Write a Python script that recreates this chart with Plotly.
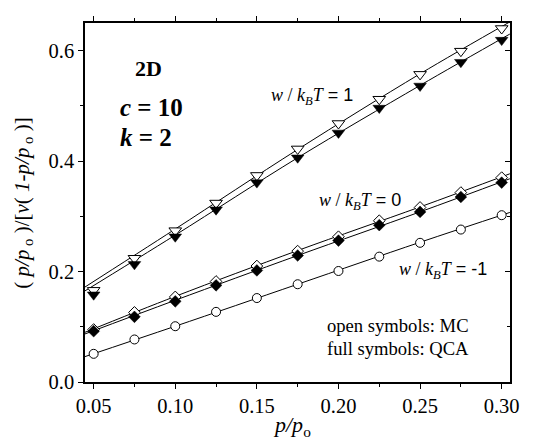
import plotly.graph_objects as go

# ---- data ----
x_pts = [0.05, 0.075, 0.10, 0.125, 0.15, 0.175, 0.20, 0.225, 0.25, 0.275, 0.30]

# w/kBT = 1
mc_w1 = [0.166, 0.224, 0.274, 0.324, 0.374, 0.422, 0.468, 0.512, 0.557, 0.599, 0.640]
qca_w1 = [0.158, 0.213, 0.263, 0.312, 0.361, 0.406, 0.451, 0.496, 0.536, 0.579, 0.619]
# w/kBT = 0
mc_w0 = [0.095, 0.126, 0.154, 0.182, 0.210, 0.237, 0.263, 0.292, 0.316, 0.343, 0.370]
qca_w0 = [0.092, 0.118, 0.146, 0.175, 0.202, 0.229, 0.256, 0.284, 0.308, 0.335, 0.361]
# w/kBT = -1
mc_wm1 = [0.051, 0.077, 0.101, 0.127, 0.152, 0.177, 0.201, 0.227, 0.252, 0.276, 0.302]

# theory curves (sampled)
line_x = [0.0447, 0.10, 0.175, 0.25, 0.305]
line_mc_w1 = [0.172, 0.277, 0.421, 0.558, 0.652]
line_qca_w1 = [0.165, 0.266, 0.406, 0.537, 0.630]
line_mc_w0 = [0.090, 0.155, 0.238, 0.317, 0.377]
line_qca_w0 = [0.087, 0.148, 0.229, 0.308, 0.368]
line_wm1 = [0.046, 0.101, 0.177, 0.253, 0.307]

x_ticks = [0.05, 0.10, 0.15, 0.20, 0.25, 0.30]
x_tick_labels = ["0.05", "0.10", "0.15", "0.20", "0.25", "0.30"]
y_ticks = [0.0, 0.2, 0.4, 0.6]
y_tick_labels = ["0.0", "0.2", "0.4", "0.6"]

SERIF = "Liberation Serif"
SANS = "Liberation Sans"

fig = go.Figure()

for ly in [line_mc_w1, line_qca_w1, line_mc_w0, line_qca_w0, line_wm1]:
    fig.add_trace(go.Scatter(x=line_x, y=ly, mode="lines",
                             line=dict(color="black", width=1, shape="spline"),
                             showlegend=False, hoverinfo="skip"))

def open_m(y, sym, size):
    return go.Scatter(x=x_pts, y=y, mode="markers", showlegend=False,
                      marker=dict(symbol=sym, size=size, color="white",
                                  line=dict(color="black", width=1)))

def full_m(y, sym, size):
    return go.Scatter(x=x_pts, y=y, mode="markers", showlegend=False,
                      marker=dict(symbol=sym, size=size, color="black",
                                  line=dict(color="black", width=0.5)))

fig.add_trace(open_m(mc_w1, "triangle-down", 11))
fig.add_trace(full_m(qca_w1, "triangle-down", 11))
fig.add_trace(open_m(mc_w0, "diamond", 9))
fig.add_trace(full_m(qca_w0, "diamond", 9))
fig.add_trace(open_m(mc_wm1, "circle", 9))

# invisible trace to carry the right-hand axis (inward ticks)
fig.add_trace(go.Scatter(x=x_pts, y=mc_wm1, mode="markers", yaxis="y2",
                         marker=dict(opacity=0), showlegend=False, hoverinfo="skip"))

tickfont = dict(family=SERIF, size=20.5, color="black")

fig.update_xaxes(range=[0.0447, 0.3051], tickvals=x_ticks, ticktext=x_tick_labels,
                 showline=True, linecolor="black", linewidth=1.5, mirror="ticks",
                 ticks="outside", ticklen=5, tickwidth=1.2, tickcolor="black",
                 showgrid=False, zeroline=False, tickfont=tickfont,
                 minor=dict(dtick=0.025, tick0=0.025, ticks="outside", ticklen=3,
                            tickcolor="black", tickwidth=1))
fig.update_layout(
    yaxis=dict(range=[0, 0.65], tickvals=y_ticks, ticktext=y_tick_labels,
               showline=True, linecolor="black", linewidth=1.5, mirror=True,
               ticks="outside", ticklen=5, tickwidth=1.2, tickcolor="black",
               showgrid=False, zeroline=False, tickfont=tickfont,
               minor=dict(dtick=0.1, tick0=0.1, ticks="outside", ticklen=3,
                          tickcolor="black", tickwidth=1)),
    yaxis2=dict(range=[0, 0.65], overlaying="y", side="right", tickvals=y_ticks,
                showticklabels=False, showline=False, showgrid=False, zeroline=False,
                ticks="inside", ticklen=5, tickwidth=1.2, tickcolor="black",
                minor=dict(dtick=0.1, tick0=0.1, ticks="inside", ticklen=3,
                           tickcolor="black", tickwidth=1)),
)

def wlabel(val):
    return ("<i>w</i> / <i>k</i><sub><i>B</i></sub><i>T</i>"
            f"<span style='font-family:{SANS}'> = {val}</span>")

ann = [
    dict(x=0.0833, y=0.568, text="<b>2D</b>", size=22),
    dict(x=0.0857, y=0.497, text="<b><i>c</i> = 10</b>", size=25),
    dict(x=0.0820, y=0.4436, text="<b><i>k</i> = 2</b>", size=25),
    dict(x=0.184, y=0.517, text=wlabel(1), size=18),
    dict(x=0.213, y=0.326, text=wlabel(0), size=18),
    dict(x=0.264, y=0.202, text=wlabel(-1), size=18),
    dict(x=0.2366, y=0.102, text="open symbols: MC", size=18.6),
    dict(x=0.2366, y=0.061, text="full symbols: QCA", size=18.6),
]
for a in ann:
    fig.add_annotation(x=a["x"], y=a["y"], text=a["text"], showarrow=False,
                       xref="x", yref="y",
                       font=dict(family=SERIF, size=a["size"], color="black"))

# axis titles
fig.add_annotation(x=0.487, y=-0.078, xref="paper", yref="paper",
                   text="<i>p/p</i><sub>o</sub>", showarrow=False,
                   xanchor="center", yanchor="top",
                   font=dict(family=SERIF, size=22, color="black"))
fig.add_annotation(x=-0.148, y=0.497, xref="paper", yref="paper", textangle=-90,
                   text="( <i>p/p</i><sub> o</sub> )/[<i>ν</i>( <i>1-p/p</i><sub> o</sub> )]",
                   showarrow=False, xanchor="center", yanchor="middle",
                   font=dict(family=SERIF, size=21, color="black"))

# page body has an 8px default margin; offset the plot so it lands where the
# reference plot area sits in the 543x439 window
fig.update_layout(width=543, height=439,
                  margin=dict(l=77, r=41, t=8, b=65),
                  plot_bgcolor="white", paper_bgcolor="white")

fig.write_html("out.html")
